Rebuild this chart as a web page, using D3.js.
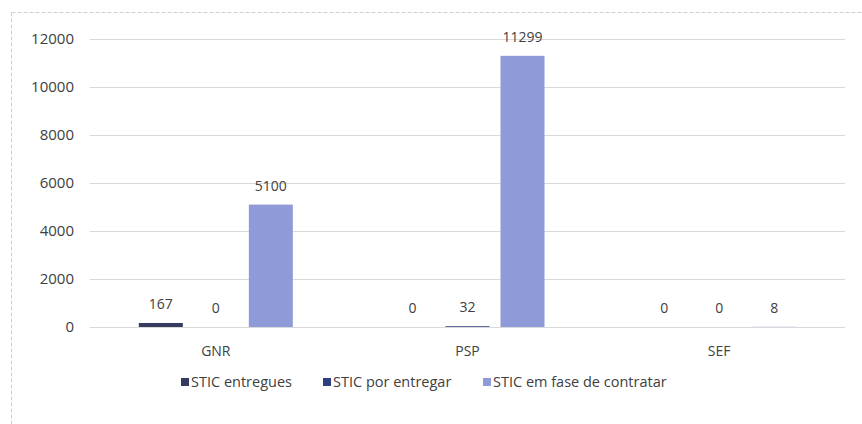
<!DOCTYPE html>
<html>
<head>
<meta charset="utf-8">
<script src="https://cdn.jsdelivr.net/npm/d3@7"></script>
<style>
  body { margin: 0; background: #fff; }
  text { font-family: "Open Sans", sans-serif; fill: #404040; }
</style>
</head>
<body>
<svg width="862" height="424"></svg>
<script>
// chart data
const categories = ["GNR", "PSP", "SEF"];
const seriesNames = ["STIC entregues", "STIC por entregar", "STIC em fase de contratar"];
const entregues = [167, 0, 0];
const porEntregar = [0, 32, 0];
const emFase = [5100, 11299, 8];
const yTicks = [0, 2000, 4000, 6000, 8000, 10000, 12000];
const colors = ["#363c60", "#2e3f80", "#8e9bd8"];

const svg = d3.select("svg");
const values = [entregues, porEntregar, emFase];

// frame (dashed, runs off the page on right/bottom like the scan)
svg.append("rect")
    .attr("x", 11.5).attr("y", 12.5)
    .attr("width", 900).attr("height", 500)
    .attr("fill", "none")
    .attr("stroke", "#cfcfcf")
    .attr("stroke-dasharray", "4,2");

const x = d3.scaleBand().domain(categories).range([90, 845]);
const y = d3.scaleLinear().domain([0, 12000]).range([327, 39]);

// inner band for the three series in each group
const xInner = d3.scaleBand()
    .domain(d3.range(seriesNames.length))
    .range([x.bandwidth() / 2 - 82.5, x.bandwidth() / 2 + 82.5])
    .paddingInner(0.2)
    .paddingOuter(0.1);

// gridlines
svg.append("g")
    .selectAll("line")
    .data(yTicks)
    .enter().append("line")
    .attr("x1", 90).attr("x2", 845)
    .attr("y1", d => Math.round(y(d)) + 0.5)
    .attr("y2", d => Math.round(y(d)) + 0.5)
    .attr("stroke", "#d9d9d9");

// y labels
svg.append("g")
    .selectAll("text")
    .data(yTicks)
    .enter().append("text")
    .attr("x", 74)
    .attr("y", d => y(d))
    .attr("dy", "0.36em")
    .attr("text-anchor", "end")
    .attr("font-size", 15)
    .text(d => d);

// flatten into bar records
const bars = [];
categories.forEach((c, ci) => {
    values.forEach((arr, si) => {
        bars.push({ cat: c, s: si, v: arr[ci] });
    });
});

const grp = svg.append("g");
grp.selectAll("rect")
    .data(bars)
    .enter().append("rect")
    .attr("x", d => x(d.cat) + xInner(d.s))
    .attr("width", xInner.bandwidth())
    .attr("y", d => y(d.v))
    .attr("height", d => y(0) - y(d.v))
    .attr("fill", d => colors[d.s]);

// value labels
grp.selectAll("text")
    .data(bars)
    .enter().append("text")
    .attr("x", d => x(d.cat) + xInner(d.s) + xInner.bandwidth() / 2)
    .attr("y", d => y(d.v) - 14)
    .attr("text-anchor", "middle")
    .attr("font-size", 14)
    .text(d => d.v);

// category labels
svg.append("g")
    .selectAll("text")
    .data(categories)
    .enter().append("text")
    .attr("x", d => x(d) + x.bandwidth() / 2)
    .attr("y", 356)
    .attr("text-anchor", "middle")
    .attr("font-size", 14)
    .text(d => d);

// legend
const legendX = [181, 323, 483];
const legend = svg.append("g")
    .selectAll("g")
    .data(seriesNames)
    .enter().append("g")
    .attr("transform", (d, i) => `translate(${legendX[i]}, 382)`);

legend.append("rect")
    .attr("x", 0).attr("y", -4)
    .attr("width", 8).attr("height", 8)
    .attr("fill", (d, i) => colors[i]);

legend.append("text")
    .attr("x", 10)
    .attr("dy", "0.36em")
    .attr("font-size", 14.5)
    .text(d => d);
</script>
</body>
</html>
